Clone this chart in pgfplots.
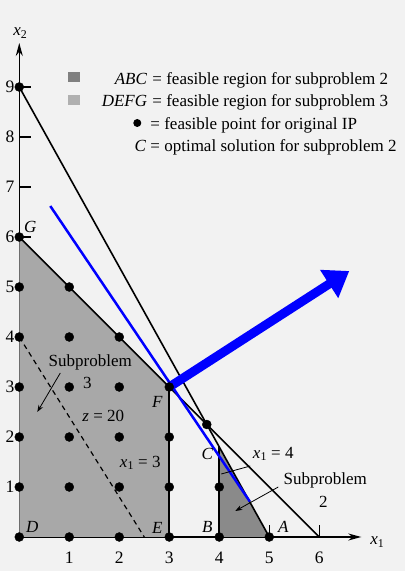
\documentclass[border=0pt]{standalone}
\usepackage{fontspec}
\setmainfont{Liberation Serif}
\usepackage{pgfplots}
\pgfplotsset{compat=1.18}
\usetikzlibrary{arrows.meta}
\definecolor{bg}{RGB}{242,242,242}
\definecolor{regA}{RGB}{138,138,138}
\definecolor{regB}{RGB}{168,168,168}
\definecolor{sqA}{RGB}{128,128,128}
\definecolor{sqB}{RGB}{176,176,176}
\begin{document}
\fontsize{17}{20}\selectfont
\begin{tikzpicture}
\fill[bg] (0,0) rectangle (405pt,571pt);
\begin{axis}[
  at={(19pt,34pt)}, anchor=origin,
  x=50pt, y=50pt,
  xmin=0, xmax=6.84, ymin=0, ymax=9.88,
  axis lines=middle,
  axis line style={line width=1.5pt, -{Stealth[length=13pt,width=7pt]}},
  xtick={1,...,6}, ytick={1,...,9},
  tick align=inside,
  major tick length=12pt,
  tick style={line width=1.2pt, black},
  /pgf/number format/assume math mode=true,
  ticklabel style={font=\fontsize{17.5}{21}\selectfont},
  xticklabel style={anchor=north, yshift=-9pt},
  yticklabel style={anchor=east, xshift=1pt},
  clip=false,
]
% regions
\addplot[fill=regB, draw=none] coordinates {(0,0) (3,0) (3,3) (0,6)} -- cycle;
\addplot[fill=regA, draw=none] coordinates {(4,0) (5,0) (4,1.8)} -- cycle;
% constraint lines
\addplot[black, line width=1.6pt] coordinates {(0,9) (5,0)};
\addplot[black, line width=1.6pt] coordinates {(0,6) (6,0)};
\addplot[black, line width=2pt] coordinates {(3,0) (3,3)};
\addplot[black, line width=2pt] coordinates {(4,0) (4,1.8)};
\addplot[black, line width=1.2pt, dash pattern=on 5pt off 4pt] coordinates {(0,4) (2.5,0)};
% blue objective line and arrow
\addplot[blue, line width=2.5pt] coordinates {(0.62,6.62) (4.61,0.71)};
\addplot[blue, line width=9pt, -{Triangle[length=24pt,width=32pt]}] coordinates {(3,3) (6.6,5.32)};
% lattice points
\addplot[only marks, mark=*, mark size=4.5pt, black] coordinates {
 (0,0) (0,1) (0,2) (0,3) (0,4) (0,5) (0,6) (0,9)
 (1,0) (1,1) (1,2) (1,3) (1,4) (1,5)
 (2,0) (2,1) (2,2) (2,3) (2,4)
 (3,0) (3,1) (3,2) (3,3)
 (4,0) (4,1) (5,0) (3.75,2.25)};
% point labels
\node at (axis cs:0.22,6.2) {\textit{G}};
\node at (axis cs:2.76,2.7) {\textit{F}};
\node at (axis cs:3.76,1.66) {\textit{C}};
\node at (axis cs:2.76,0.18) {\textit{E}};
\node at (axis cs:0.26,0.2) {\textit{D}};
\node at (axis cs:3.76,0.2) {\textit{B}};
\node at (axis cs:5.28,0.2) {\textit{A}};
% annotations
\node at (axis cs:1.42,3.5) {Subproblem};
\node at (axis cs:1.36,3.08) {3};
\draw[line width=0.8pt, -{Stealth[length=7pt,width=5pt]}] (axis cs:0.82,3.28) -- (axis cs:0.36,2.5);
\node at (axis cs:1.68,2.42) {\textit{z} = 20};
\node at (axis cs:2.42,1.48) {\textit{x}\textsubscript{1} = 3};
\node at (axis cs:5.08,1.66) {\textit{x}\textsubscript{1} = 4};
\draw[line width=0.8pt] (axis cs:4.62,1.42) -- (axis cs:4.04,1.26);
\node at (axis cs:6.12,1.14) {Subproblem};
\node at (axis cs:6.08,0.7) {2};
\draw[line width=0.8pt, -{Stealth[length=7pt,width=5pt]}] (axis cs:5.18,1.0) -- (axis cs:4.32,0.52);
% axis labels
\node at (axis cs:7.16,-0.1) {\textit{x}\textsubscript{1}};
\node at (axis cs:0.02,10.08) {\textit{x}\textsubscript{2}};
% legend
\node at (axis cs:1.1,9.19) {\textcolor{sqA}{\rule{12pt}{10pt}}};
\node at (axis cs:1.1,8.73) {\textcolor{sqB}{\rule{12pt}{10pt}}};
\node[circle, fill=black, inner sep=0pt, minimum size=8pt] at (axis cs:2.36,8.28) {};
\node[anchor=base east, inner sep=0pt] at (axis cs:2.56,9.04) {\textit{ABC}};
\node[anchor=base west, inner sep=0pt] at (axis cs:2.66,9.04) {= feasible region for subproblem 2};
\node[anchor=base east, inner sep=0pt] at (axis cs:2.56,8.6) {\textit{DEFG}};
\node[anchor=base west, inner sep=0pt] at (axis cs:2.66,8.6) {= feasible region for subproblem 3};
\node[anchor=base west, inner sep=0pt] at (axis cs:2.62,8.15) {= feasible point for original IP};
\node[anchor=base east, inner sep=0pt] at (axis cs:2.54,7.7) {\textit{C}};
\node[anchor=base west, inner sep=0pt] at (axis cs:2.62,7.7) {= optimal solution for subproblem 2};
\end{axis}
\end{tikzpicture}
\end{document}
